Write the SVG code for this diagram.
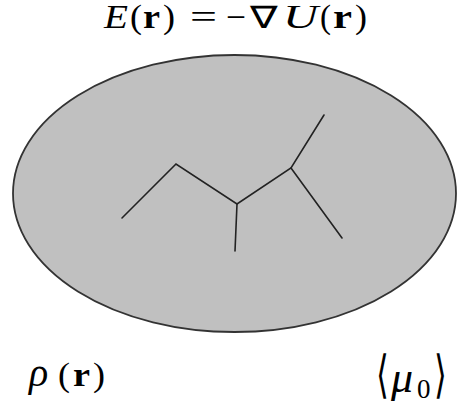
<svg xmlns="http://www.w3.org/2000/svg" width="457" height="409" viewBox="0 0 457 409">
<style>
.t{font-family:"Liberation Serif","Times New Roman",serif;font-size:33px;fill:#000}
.i{font-style:italic}
.b{font-weight:bold}
.ln{fill:none;stroke:#222;stroke-width:1.6;stroke-linecap:round;stroke-linejoin:miter}
</style>
<rect width="457" height="409" fill="#fff"/>
<g id="region">
<ellipse cx="234.5" cy="193.5" rx="221.5" ry="138.5" fill="#c0c0c0" stroke="#333" stroke-width="1.8"/>
</g>
<g id="molecule">
<polyline class="ln" points="122,218 176,164 237,204 291,168 324,115"/>
<line class="ln" x1="291" y1="168" x2="342" y2="238"/>
<line class="ln" x1="237" y1="204" x2="235" y2="251"/>
</g>
<g id="title">
<text class="t" y="28"><tspan class="i" x="104" textLength="24" lengthAdjust="spacingAndGlyphs">E</tspan><tspan x="130" textLength="12" lengthAdjust="spacingAndGlyphs">(</tspan><tspan class="b" x="143" textLength="17" lengthAdjust="spacingAndGlyphs">r</tspan><tspan x="163" textLength="12" lengthAdjust="spacingAndGlyphs">)</tspan><tspan x="190" textLength="27" lengthAdjust="spacingAndGlyphs">=</tspan><tspan x="226" textLength="20" lengthAdjust="spacingAndGlyphs">−</tspan><tspan x="250" style="font-size:31px" textLength="28" lengthAdjust="spacingAndGlyphs">∇</tspan><tspan class="i" x="283" textLength="35" lengthAdjust="spacingAndGlyphs">U</tspan><tspan x="320" textLength="11" lengthAdjust="spacingAndGlyphs">(</tspan><tspan class="b" x="333" textLength="19" lengthAdjust="spacingAndGlyphs">r</tspan><tspan x="355" textLength="12" lengthAdjust="spacingAndGlyphs">)</tspan></text>
</g>
<g id="rho">
<text class="t" y="386"><tspan class="i" x="29" style="font-size:40px">ρ</tspan><tspan x="58" textLength="12" lengthAdjust="spacingAndGlyphs">(</tspan><tspan class="b" x="73" textLength="17" lengthAdjust="spacingAndGlyphs">r</tspan><tspan x="93" textLength="12" lengthAdjust="spacingAndGlyphs">)</tspan></text>
</g>
<g id="mu">
<text class="t" transform="translate(376,392) scale(1,1.55)">⟨</text>
<text class="t i" style="font-size:44px" x="391" y="392">μ</text>
<text class="t" style="font-size:27px" x="417" y="398">0</text>
<text class="t" transform="translate(434,392) scale(1,1.55)">⟩</text>
</g>
</svg>
